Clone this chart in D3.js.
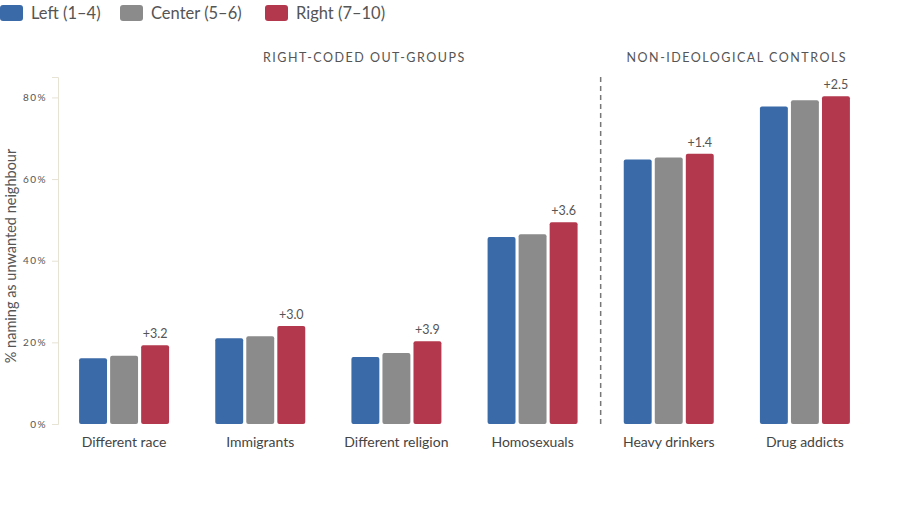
<!DOCTYPE html>
<html>
<head>
<meta charset="utf-8">
<script src="https://cdn.jsdelivr.net/npm/d3@7"></script>
<style>
  body { margin: 0; background: #fff; }
  svg text { font-family: Lato, "Noto Sans", sans-serif; }
  .y-axis .domain, .y-axis .tick line { stroke: #e6e2d4; }
  .y-axis .tick text { fill: #555; font-size: 10px; letter-spacing: 1.5px; }
</style>
</head>
<body>
<div id="chart"></div>
<script>
const categories = ["Different race", "Immigrants", "Different religion", "Homosexuals", "Heavy drinkers", "Drug addicts"];
const series = ["Left (1\u20134)", "Center (5\u20136)", "Right (7\u201310)"];
const leftValues = [16.1, 21.0, 16.4, 45.8, 64.8, 77.8];
const centerValues = [16.7, 21.5, 17.4, 46.5, 65.3, 79.3];
const rightValues = [19.3, 24.0, 20.3, 49.4, 66.2, 80.3];
const gapLabels = ["+3.2", "+3.0", "+3.9", "+3.6", "+1.4", "+2.5"];
const sectionNames = ["RIGHT-CODED OUT-GROUPS", "NON-IDEOLOGICAL CONTROLS"];
const yTicks = [0, 20, 40, 60, 80];

const colours = ["#3b6aa8", "#8b8b8b", "#b4384d"];

const width = 900, height = 528;
const svg = d3.select("#chart").append("svg")
    .attr("width", width)
    .attr("height", height);

const data = categories.map((c, i) => ({
    category: c,
    values: [leftValues[i], centerValues[i], rightValues[i]],
    gap: gapLabels[i]
}));

const x0 = d3.scaleBand()
    .domain(categories)
    .range([56, 873]);

const groupWidth = 90;
const x1 = d3.scaleBand()
    .domain(series)
    .range([0, groupWidth])
    .paddingInner(0.1);

const y = d3.scaleLinear()
    .domain([0, 85])
    .range([424, 77]);

const colour = d3.scaleOrdinal().domain(series).range(colours);

// legend
const legend = svg.append("g").attr("class", "legend");
const legendX = [0, 120, 265];
series.forEach((s, i) => {
    const g = legend.append("g").attr("transform", "translate(" + legendX[i] + ",5)");
    g.append("rect")
        .attr("width", 23)
        .attr("height", 16)
        .attr("rx", 3)
        .style("fill", colour(s));
    g.append("text")
        .attr("x", 31)
        .attr("y", 14)
        .style("font-size", "16.5px")
        .style("fill", "#555")
        .text(s);
});

// y axis
const yAxis = d3.axisLeft(y)
    .tickValues(yTicks)
    .tickFormat(d => d + "%")
    .tickSize(6)
    .tickPadding(5);

svg.append("g")
    .attr("class", "y-axis")
    .attr("transform", "translate(58,0)")
    .call(yAxis);

svg.append("text")
    .attr("transform", "translate(16,256) rotate(-90)")
    .attr("text-anchor", "middle")
    .style("font-size", "14.5px")
    .style("fill", "#555")
    .text("% naming as unwanted neighbour");

// divider between sections
const divX = x0("Heavy drinkers");
svg.append("line")
    .attr("x1", divX)
    .attr("x2", divX)
    .attr("y1", y(85))
    .attr("y2", y(0))
    .style("stroke", "#777")
    .style("stroke-width", 1.5)
    .style("stroke-dasharray", "5,4");

// section headers
const firstCentre = x0(categories[0]) + x0.bandwidth() / 2;
const lastCentre = x0(categories[5]) + x0.bandwidth() / 2;
const headerX = [(firstCentre + divX) / 2 + 2, (x0("Heavy drinkers") + x0.bandwidth() / 2 + lastCentre) / 2];
sectionNames.forEach((name, i) => {
    svg.append("text")
        .attr("x", headerX[i])
        .attr("y", 62)
        .attr("text-anchor", "middle")
        .style("font-size", "12.5px")
        .style("letter-spacing", "1.5px")
        .style("fill", "#555")
        .text(name);
});

// bars
const groups = svg.append("g")
    .selectAll("g")
    .data(data)
    .enter().append("g")
    .attr("transform", d => "translate(" + (x0(d.category) + (x0.bandwidth() - groupWidth) / 2) + ",0)");

groups.selectAll("rect")
    .data(d => d.values.map((v, i) => ({ key: series[i], value: v })))
    .enter().append("rect")
    .attr("x", d => x1(d.key))
    .attr("y", d => y(d.value))
    .attr("width", x1.bandwidth())
    .attr("height", d => y(0) - y(d.value))
    .attr("rx", 2)
    .style("fill", d => colour(d.key));

groups.append("text")
    .attr("x", x1(series[2]) + x1.bandwidth() / 2)
    .attr("y", d => y(d.values[2]) - 7)
    .attr("text-anchor", "middle")
    .style("font-size", "12.5px")
    .style("fill", "#555")
    .text(d => d.gap);

// category labels
svg.append("g")
    .selectAll("text")
    .data(categories)
    .enter().append("text")
    .attr("x", d => x0(d) + x0.bandwidth() / 2)
    .attr("y", 447)
    .attr("text-anchor", "middle")
    .style("font-size", "14px")
    .style("fill", "#444")
    .text(d => d);
</script>
</body>
</html>
